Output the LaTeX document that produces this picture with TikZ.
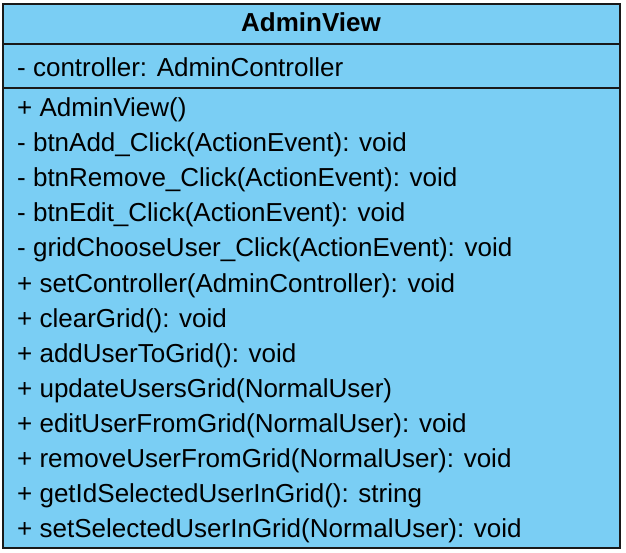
\documentclass[tikz,border=0pt]{standalone}
\usepackage{fontspec}
\setmainfont{Liberation Sans}
\usepackage{xcolor}
\usetikzlibrary{positioning}
\definecolor{viewblue}{RGB}{122,206,244}
\definecolor{viewline}{RGB}{25,25,25}

\begin{document}
\begin{tikzpicture}[x=1pt,y=1pt,
    every node/.style={on grid,node distance=35pt},
    member/.style={inner sep=0pt,anchor=base west,font=\fontsize{26}{30}\selectfont},
    next/.style={below=of #1.base west,anchor=base west},
    classline/.style={draw=viewline,line width=1.8pt}]
    \useasboundingbox (0,0) rectangle (626,-553);
    \coordinate (NW) at (3,-4);
    \coordinate (SE) at (620,-548);
    \fill[viewblue] (NW) rectangle (SE);
    \node[member,anchor=base,font=\fontsize{26}{30}\selectfont\bfseries] (Title) at (311,-32) {AdminView};
    \node[member] (Ctrl) at (17,-77) {- controller: AdminController};
    \node[member] (Ctor) at (17,-117) {+ AdminView()};
    \node[member,next=Ctor] (Add) {- btnAdd\_Click(ActionEvent): void};
    \node[member,next=Add] (Remove) {- btnRemove\_Click(ActionEvent): void};
    \node[member,next=Remove] (Edit) {- btnEdit\_Click(ActionEvent): void};
    \node[member,next=Edit] (Choose) {- gridChooseUser\_Click(ActionEvent): void};
    \node[member,next=Choose] (SetCtrl) {+ setController(AdminController): void};
    \node[member,next=SetCtrl] (Clear) {+ clearGrid(): void};
    \node[member,next=Clear] (AddUser) {+ addUserToGrid(): void};
    \node[member,next=AddUser] (Update) {+ updateUsersGrid(NormalUser)};
    \node[member,next=Update] (EditUser) {+ editUserFromGrid(NormalUser): void};
    \node[member,next=EditUser] (RemoveUser) {+ removeUserFromGrid(NormalUser): void};
    \node[member,next=RemoveUser] (GetId) {+ getIdSelectedUserInGrid(): string};
    \node[member,next=GetId] (SetSel) {+ setSelectedUserInGrid(NormalUser): void};
    \draw[classline] (NW) rectangle (SE);
    \draw[classline] (3,-44) -- (620,-44);
    \draw[classline] (3,-88) -- (620,-88);
  \end{tikzpicture}
\end{document}
